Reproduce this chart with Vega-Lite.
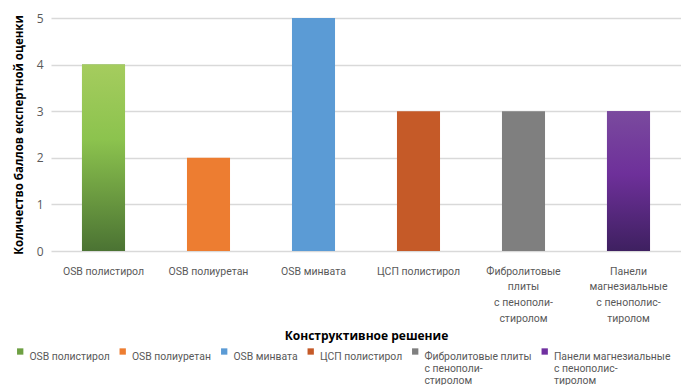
{
  "$schema": "https://vega.github.io/schema/vega-lite/v6.json",
  "width": 630,
  "height": 233,
  "autosize": {"type": "none"},
  "padding": {"left": 51, "top": 18, "right": 0, "bottom": 134},
  "background": "white",
  "config": {
    "font": "Roboto",
    "view": {"stroke": null}
  },
  "data": {
    "values": [
      {"name": "OSB полистирол", "value": 4},
      {"name": "OSB полиуретан", "value": 2},
      {"name": "OSB минвата", "value": 5},
      {"name": "ЦСП полистирол", "value": 3},
      {"name": "Фибролитовые|плиты|с пенополи-|стиролом", "value": 3},
      {"name": "Панели|магнезиальные|с пенополис-|тиролом", "value": 3}
    ]
  },
  "encoding": {
    "x": {
      "field": "name",
      "type": "nominal",
      "sort": null,
      "scale": {"paddingInner": 0.59, "paddingOuter": 0.295},
      "axis": {
        "title": "Конструктивное решение",
        "titleFont": "Open Sans",
        "titleFontWeight": "bold",
        "titleFontSize": 12,
        "titleColor": "#000000",
        "titlePadding": 7,
        "labelAngle": 0,
        "labelExpr": "split(datum.label, '|')",
        "labelFontSize": 10.5,
        "labelColor": "#595959",
        "labelLineHeight": 15.7,
        "labelPadding": 15,
        "labelLimit": 200,
        "ticks": false,
        "domain": false
      }
    },
    "y": {
      "field": "value",
      "type": "quantitative",
      "scale": {"domain": [0, 5], "nice": false},
      "axis": {
        "values": [0, 1, 2, 3, 4, 5],
        "title": "Количество баллов експертной оценки",
        "titleFont": "Open Sans",
        "titleFontWeight": "bold",
        "titleFontSize": 11.5,
        "titleColor": "#000000",
        "titlePadding": 12,
        "labelFont": "Open Sans",
        "labelFontSize": 12,
        "labelColor": "#595959",
        "labelPadding": 8,
        "ticks": false,
        "domain": false,
        "gridColor": "#d9d9d9",
        "gridWidth": 1.5
      }
    }
  },
  "layer": [
    {
      "mark": {"type": "bar"},
      "encoding": {
        "fill": {
          "field": "name",
          "type": "nominal",
          "scale": {
            "domain": ["OSB полистирол", "OSB полиуретан", "OSB минвата", "ЦСП полистирол", "Фибролитовые|плиты|с пенополи-|стиролом", "Панели|магнезиальные|с пенополис-|тиролом"],
            "range": ["#6EA043", "#ED7D31", "#5B9BD5", "#C55A28", "#7F7F7F", "#7030A0"]
          },
          "legend": {
            "orient": "none",
            "direction": "horizontal",
            "legendX": -36,
            "legendY": 328,
            "title": null,
            "symbolType": "square",
            "symbolSize": 40,
            "symbolStrokeWidth": 0,
            "labelExpr": "split(replace(datum.label, '|', ' ') + (indexof(datum.label, '|') < 0 ? '||' : ''), '|')",
            "labelFontSize": 10.4,
            "labelBaseline": "top",
            "labelColor": "#595959",
            "labelLineHeight": 15,
            "labelOffset": 4,
            "columnPadding": 7.5,
            "labelLimit": 200
          }
        }
      }
    },
    {
      "transform": [{"filter": "datum.name === 'OSB полистирол'"}],
      "mark": {
        "type": "bar",
        "color": {
          "gradient": "linear",
          "x1": 0, "y1": 0, "x2": 0, "y2": 1,
          "stops": [
            {"offset": 0, "color": "#A5CC5E"},
            {"offset": 0.4, "color": "#8CC34E"},
            {"offset": 1, "color": "#4B7333"}
          ]
        }
      }
    },
    {
      "transform": [{"filter": "indexof(datum.name, 'Панели') === 0"}],
      "mark": {
        "type": "bar",
        "color": {
          "gradient": "linear",
          "x1": 0, "y1": 0, "x2": 0, "y2": 1,
          "stops": [
            {"offset": 0, "color": "#7A4A9E"},
            {"offset": 0.45, "color": "#6E309A"},
            {"offset": 1, "color": "#3E2060"}
          ]
        }
      }
    }
  ]
}
